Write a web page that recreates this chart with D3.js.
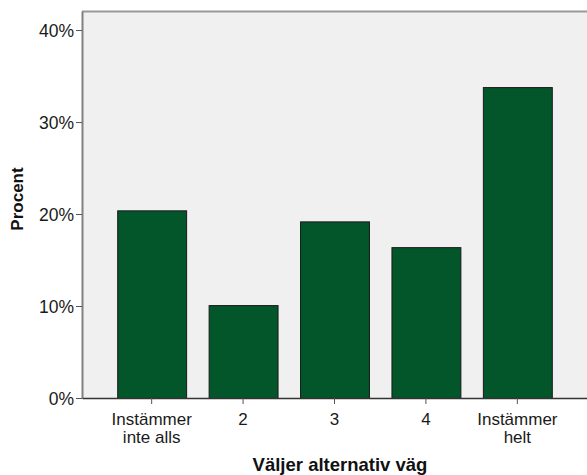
<!DOCTYPE html>
<html><head><meta charset="utf-8">
<script src="https://cdn.jsdelivr.net/npm/d3@7"></script>
<style>body{margin:0;background:#fff}svg{display:block}text{font-family:"Liberation Sans",Arial,sans-serif}</style>
</head><body><svg id="c" width="587" height="475"></svg>
<script>
const categories = ["Instämmer|inte alls", "2", "3", "4", "Instämmer|helt"];
const values = [20.4, 10.1, 19.2, 16.4, 33.8];
const yTicks = [0, 10, 20, 30, 40];

const svg = d3.select("#c");
const L = 82, R = 587, T = 11, B = 398;
const FONT = '"Liberation Sans", Arial, sans-serif';
const x = d3.scaleBand().domain(categories).range([L, R]).paddingInner(0.246).paddingOuter(0.385);
const y = d3.scaleLinear().domain([0, 42.07]).range([B, T]);

svg.append("rect").attr("x", L).attr("y", T).attr("width", R - L).attr("height", B - T).attr("fill", "#f0f0f0");

svg.selectAll("rect.bar").data(values).join("rect").attr("class", "bar")
  .attr("x", (d, i) => x(categories[i]) + 0.5)
  .attr("y", d => y(d) + 0.5)
  .attr("width", x.bandwidth())
  .attr("height", d => B - y(d))
  .attr("fill", "#03552a").attr("stroke", "#1a1a1a").attr("stroke-width", 1);

svg.append("line").attr("x1", L).attr("x2", R).attr("y1", T + 0.5).attr("y2", T + 0.5).attr("stroke", "#999").attr("stroke-width", 2);

const yAxis = d3.axisLeft(y).tickValues(yTicks).tickFormat(d => d + "%").tickSize(6).tickSizeOuter(0);
const gy = svg.append("g").attr("transform", `translate(${L},0)`).call(yAxis).attr("font-family", FONT);
gy.select(".domain").attr("stroke", "#808080").attr("stroke-width", 2);
gy.selectAll(".tick line").attr("stroke", "#555");
gy.selectAll(".tick text").attr("font-size", 17.5).attr("fill", "#1a1a1a").attr("x", -8).attr("dy", "0.36em");

const xAxis = d3.axisBottom(x).tickSize(6).tickSizeOuter(0).tickFormat("");
const gx = svg.append("g").attr("transform", `translate(0,${B})`).call(xAxis).attr("font-family", FONT);
gx.select(".domain").attr("stroke", "#333").attr("stroke-width", 1.5);
gx.selectAll(".tick line").attr("stroke", "#555");
gx.selectAll(".tick").each(function(d) {
  const lines = d.split("|");
  const t = d3.select(this).append("text").attr("fill", "#1a1a1a").attr("font-size", 17).attr("text-anchor", "middle").attr("y", 26.5);
  lines.forEach((s, i) => t.append("tspan").attr("x", 0).attr("dy", i === 0 ? 0 : 18.5).text(s));
});

svg.append("text").attr("x", 340).attr("y", 471).attr("text-anchor", "middle")
  .attr("font-size", 18.5).attr("font-weight", "bold").attr("fill", "#111").text("Väljer alternativ väg");
svg.append("text").attr("transform", "translate(23,199) rotate(-90)").attr("text-anchor", "middle")
  .attr("font-size", 17).attr("font-weight", "bold").attr("fill", "#111").text("Procent");
</script></body></html>
